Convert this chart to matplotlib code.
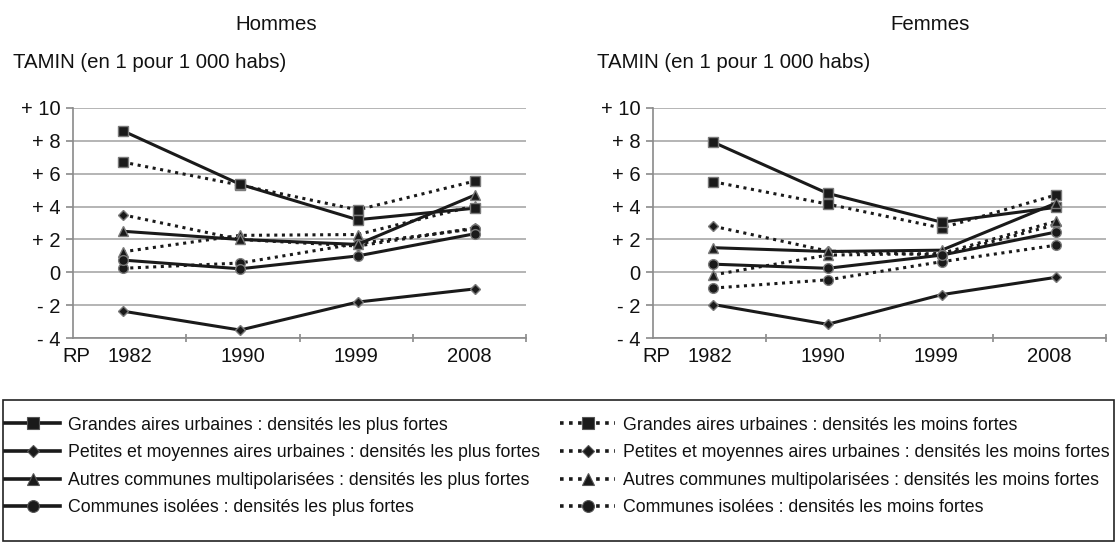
import matplotlib
matplotlib.use("Agg")
import matplotlib.pyplot as plt
from matplotlib.lines import Line2D
from matplotlib.patches import Rectangle

plt.rcParams['font.family'] = ['Liberation Sans', 'DejaVu Sans']

# ---------------- data ----------------
years = ['1982', '1990', '1999', '2008']
ytick_vals = [-4, -2, 0, 2, 4, 6, 8, 10]
ytick_labels = ['- 4', '- 2', '0', '+ 2', '+ 4', '+ 6', '+ 8', '+ 10']

labels = [
    "Grandes aires urbaines : densités les plus fortes",
    "Petites et moyennes aires urbaines : densités les plus fortes",
    "Autres communes multipolarisées : densités les plus fortes",
    "Communes isolées : densités les plus fortes",
    "Grandes aires urbaines : densités les moins fortes",
    "Petites et moyennes aires urbaines : densités les moins fortes",
    "Autres communes multipolarisées : densités les moins fortes",
    "Communes isolées : densités les moins fortes",
]

# Hommes
h_gau_fortes = [8.6, 5.35, 3.2, 3.9]
h_pmau_fortes = [-2.35, -3.5, -1.8, -1.0]
h_ac_fortes = [2.5, 2.0, 1.7, 4.7]
h_ci_fortes = [0.75, 0.22, 1.0, 2.35]
h_gau_moins = [6.7, 5.3, 3.8, 5.55]
h_pmau_moins = [3.5, 2.0, 1.6, 2.7]
h_ac_moins = [1.25, 2.25, 2.3, 4.05]
h_ci_moins = [0.25, 0.57, 1.75, 2.65]

# Femmes
f_gau_fortes = [7.9, 4.8, 3.05, 3.95]
f_pmau_fortes = [-1.95, -3.15, -1.35, -0.3]
f_ac_fortes = [1.5, 1.27, 1.35, 4.2]
f_ci_fortes = [0.5, 0.25, 1.05, 2.45]
f_gau_moins = [5.5, 4.15, 2.7, 4.7]
f_pmau_moins = [2.8, 1.3, 1.05, 2.9]
f_ac_moins = [-0.15, 1.05, 1.15, 3.1]
f_ci_moins = [-0.95, -0.45, 0.65, 1.65]

hommes = [h_gau_fortes, h_pmau_fortes, h_ac_fortes, h_ci_fortes,
          h_gau_moins, h_pmau_moins, h_ac_moins, h_ci_moins]
femmes = [f_gau_fortes, f_pmau_fortes, f_ac_fortes, f_ci_fortes,
          f_gau_moins, f_pmau_moins, f_ac_moins, f_ci_moins]

# ---------------- styles ----------------
markers = ['s', 'D', '^', 'o', 's', 'D', '^', 'o']
msizes = [7, 5, 7.5, 7, 7, 5, 7.5, 7]
solid = [True, True, True, True, False, False, False, False]
LINE_C = '#1a1a1a'
GRID_C = '#a8a8a8'
AXIS_C = '#8a8a8a'
DOTTED = (0, (1.0, 1.5))

W, H = 1118, 547
fig = plt.figure(figsize=(W / 100, H / 100), dpi=100)


def px_axes(x0, x1, ytop, ybot):
    return [x0 / W, 1 - ybot / H, (x1 - x0) / W, (ybot - ytop) / H]


def draw_panel(ax, data, xlim):
    x = list(range(len(years)))
    order = [4, 5, 6, 7, 0, 1, 2, 3]
    for i in order:
        ax.plot(x, data[i], color=LINE_C, lw=2.2,
                linestyle='-' if solid[i] else DOTTED,
                marker=markers[i], ms=msizes[i], mfc=LINE_C,
                mec='#7a7a7a', mew=1.0, zorder=3 if solid[i] else 2,
                clip_on=False)
    ax.set_xlim(*xlim)
    ax.set_ylim(-4, 10)
    ax.set_yticks(ytick_vals, ytick_labels)
    span = xlim[1] - xlim[0]
    centers = [xlim[0] + span * f for f in (0.006, 0.125, 0.375, 0.625, 0.875)]
    bounds = [xlim[0] + span * f for f in (0.25, 0.5, 0.75, 1.0)]
    ax.set_xticks(centers, ['RP'] + years)
    ax.set_xticks(bounds, minor=True)
    ax.tick_params(axis='x', which='major', length=0, pad=6, labelsize=14.5,
                   labelcolor='#111')
    ax.tick_params(axis='x', which='minor', length=6, direction='inout',
                   width=1.2, color=AXIS_C)
    ax.tick_params(axis='y', length=5, width=1.2, color=AXIS_C, pad=4,
                   labelsize=14.5, labelcolor='#111')
    ax.yaxis.grid(True, color=GRID_C, lw=1.2, zorder=0)
    ax.set_axisbelow(True)
    for s in ('top', 'right'):
        ax.spines[s].set_visible(False)
    for s in ('left', 'bottom'):
        ax.spines[s].set_color(AXIS_C)
        ax.spines[s].set_linewidth(1.2)


axL = fig.add_axes(px_axes(73.3, 526, 107.7, 338.3))
axR = fig.add_axes(px_axes(653.3, 1106, 107.7, 338.3))
draw_panel(axL, hommes, (-0.42, 3.434))
draw_panel(axR, femmes, (-0.527, 3.44))

# titles
fig.text(276 / W, 1 - 25 / H, 'Hommes', ha='center', va='center', fontsize=14.7, color='#111')
fig.text(930 / W, 1 - 25 / H, 'Femmes', ha='center', va='center', fontsize=14.7, color='#111')
fig.text(13 / W, 1 - 63 / H, 'TAMIN (en 1 pour 1 000 habs)', ha='left', va='center',
         fontsize=14.7, color='#111')
fig.text(597 / W, 1 - 63 / H, 'TAMIN (en 1 pour 1 000 habs)', ha='left', va='center',
         fontsize=14.7, color='#111')

# legend
handles = []
for i in range(8):
    handles.append(Line2D([0], [0], color=LINE_C, lw=2.6,
                          linestyle='-' if solid[i] else DOTTED,
                          marker=markers[i], ms=msizes[i] + 1.5, mfc=LINE_C,
                          mec='#555', mew=0.8))
leg_top, leg_bot = 412, 521
fig.legend(handles, labels, ncol=2, loc='center',
           bbox_to_anchor=(5 / W, 1 - leg_bot / H, 1105 / W, (leg_bot - leg_top) / H),
           mode='expand', frameon=False, fontsize=12.8, borderpad=0,
           borderaxespad=0, handlelength=3.1, handletextpad=0.45,
           labelspacing=0.6, columnspacing=1.0, labelcolor='#111')
box_top, box_bot = 400, 541
fig.patches.append(Rectangle((3 / W, 1 - box_bot / H), 1111 / W, (box_bot - box_top) / H,
                             transform=fig.transFigure, fill=False, ec='#222', lw=1.2))

fig.savefig('out.png', dpi=100)
